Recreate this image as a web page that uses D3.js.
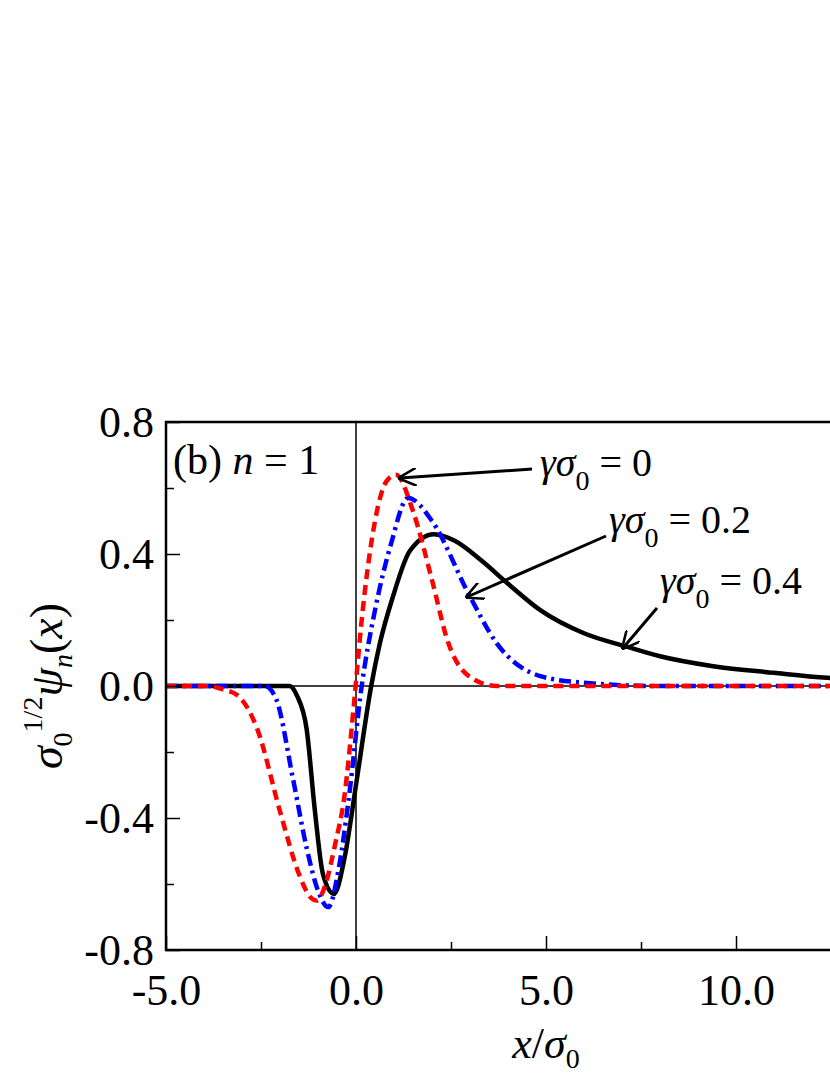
<!DOCTYPE html>
<html><head><meta charset="utf-8">
<script src="https://cdn.jsdelivr.net/npm/d3@7"></script>
<style>body{margin:0;background:#fff}</style>
</head><body><svg id="c" width="830" height="1075" font-family="Liberation Serif, DejaVu Serif, serif"></svg>
<script>
const redX=[-5,-3.9,-3.5,-3.1,-2.6,-2,-1.5,-1.2,-1.03,-0.8,-0.55,-0.3,-0.05,0.15,0.5,0.8,1.05,1.5,1.98,2.43,3.1,3.7,15];
const redY=[0,0,-0.01,-0.03,-0.13,-0.38,-0.57,-0.64,-0.65,-0.6,-0.48,-0.33,-0.05,0.2,0.5,0.62,0.64,0.53,0.33,0.13,0.02,0,0];
const blueX=[-5,-2.4,-2.1,-1.66,-1.3,-1.0,-0.73,-0.45,-0.2,0.15,0.5,0.92,1.37,2.0,2.96,3.7,4.85,6,8,15];
const blueY=[0,0,-0.04,-0.28,-0.49,-0.62,-0.67,-0.55,-0.35,0,0.23,0.43,0.57,0.5,0.28,0.13,0.03,0.01,0,0];
const blackX=[-5,-1.75,-1.55,-1.3,-1.08,-0.87,-0.58,-0.3,0,0.4,0.63,0.97,1.42,2.05,2.6,3.3,4,4.85,6,7.1,8,9.4,11,12.4,15];
const blackY=[0,0,-0.03,-0.13,-0.38,-0.57,-0.63,-0.52,-0.3,0,0.13,0.27,0.41,0.46,0.44,0.38,0.31,0.23,0.16,0.12,0.09,0.06,0.04,0.025,0.015];
const xTicks=[-5,0,5,10,15], yTicks=[-0.8,-0.4,0,0.4,0.8];
const svg=d3.select("#c");
const L=166,R=926,T=422,B=950;
const x=d3.scaleLinear().domain([-5,15]).range([L,R]);
const y=d3.scaleLinear().domain([-0.8,0.8]).range([B,T]);
svg.append("line").attr("x1",L).attr("x2",R).attr("y1",y(0)).attr("y2",y(0)).attr("stroke","#000").attr("stroke-width",1.5);
svg.append("line").attr("x1",x(0)).attr("x2",x(0)).attr("y1",T).attr("y2",B).attr("stroke","#000").attr("stroke-width",1.5);
const g=svg.append("g");
function draw(xs,ys,col,w,dash){
  const d=xs.map((v,i)=>[v,ys[i]]);
  g.append("path").datum(d).attr("fill","none").attr("stroke",col).attr("stroke-width",w)
   .attr("stroke-dasharray",dash).attr("d",d3.line().x(p=>x(p[0])).y(p=>y(p[1])).curve(d3.curveMonotoneX));
}
draw(blackX,blackY,"#000",4.5,null);
draw(blueX,blueY,"#0000ff",4.5,"12,5,3,5");
draw(redX,redY,"#ff0000",4.5,"10,6");
const fmt=d=>d3.format(".1f")(d).replace("−","-");
svg.append("g").attr("transform",`translate(0,${B})`).call(d3.axisBottom(x).tickValues(xTicks).tickFormat(fmt).tickSizeInner(-14).tickSizeOuter(0).tickPadding(24));
const ya=svg.append("g").attr("transform",`translate(${L},0)`).call(d3.axisLeft(y).tickValues(yTicks).tickFormat(fmt).tickSizeInner(-14).tickSizeOuter(0).tickPadding(24));
svg.append("g").attr("transform",`translate(0,${B})`).call(d3.axisBottom(x).tickValues([-2.5,2.5,7.5,12.5]).tickFormat("").tickSizeInner(-8).tickSizeOuter(0)).select(".domain").remove();
svg.append("g").attr("transform",`translate(${L},0)`).call(d3.axisLeft(y).tickValues([-0.6,-0.2,0.2,0.6]).tickFormat("").tickSizeInner(-8).tickSizeOuter(0)).select(".domain").remove();
svg.selectAll("g").attr("font-family","Liberation Serif, DejaVu Serif, serif");
svg.selectAll(".tick line").attr("stroke-width",1.5);
svg.selectAll(".tick text").attr("font-size",44).attr("fill","#000");
ya.selectAll(".tick text").attr("dx",12);
svg.append("rect").attr("x",L).attr("y",T).attr("width",R-L).attr("height",B-T).attr("fill","none").attr("stroke","#000").attr("stroke-width",2.5);
svg.append("text").attr("x",173).attr("y",474).attr("font-size",42).html('(b) <tspan font-style="italic">n</tspan> = 1');
svg.append("text").attr("x",546).attr("y",1058).attr("text-anchor","middle").attr("font-size",44).html('<tspan font-style="italic">x</tspan>/<tspan font-style="italic">σ</tspan><tspan font-size="28" dy="10">0</tspan>');
svg.append("text").attr("transform","translate(62,686) rotate(-90)").attr("text-anchor","middle").attr("font-size",46)
 .html('<tspan font-style="italic">σ</tspan><tspan font-size="28" dy="10">0</tspan><tspan font-size="28" dy="-30">1/2</tspan><tspan font-style="italic" dy="20">ψ</tspan><tspan font-size="28" font-style="italic" dy="10">n</tspan><tspan dy="-10">(</tspan><tspan font-style="italic">x</tspan>)');
const defs=svg.append("defs");
defs.append("marker").attr("id","ah").attr("viewBox","0 0 10 10").attr("refX",9).attr("refY",5).attr("markerWidth",6).attr("markerHeight",6).attr("orient","auto").attr("markerUnits","strokeWidth")
 .append("path").attr("d","M0,0 L10,5 L0,10").attr("fill","none").attr("stroke","#000").attr("stroke-width",1.4);
function ann(tx,ty,x1,y1,x2,y2,val){
  svg.append("line").attr("x1",x1).attr("y1",y1).attr("x2",x2).attr("y2",y2).attr("stroke","#000").attr("stroke-width",3).attr("marker-end","url(#ah)");
  svg.append("text").attr("x",tx).attr("y",ty).attr("font-size",40).html(`<tspan font-style="italic">γσ</tspan><tspan font-size="28" dy="14">0</tspan><tspan dy="-14"> = ${val}</tspan>`);
}
ann(540,476,532,469,400,478,"0");
ann(609,533,606,536,467,597,"0.2");
ann(660,594,657,608,623,648,"0.4");
</script></body></html>
